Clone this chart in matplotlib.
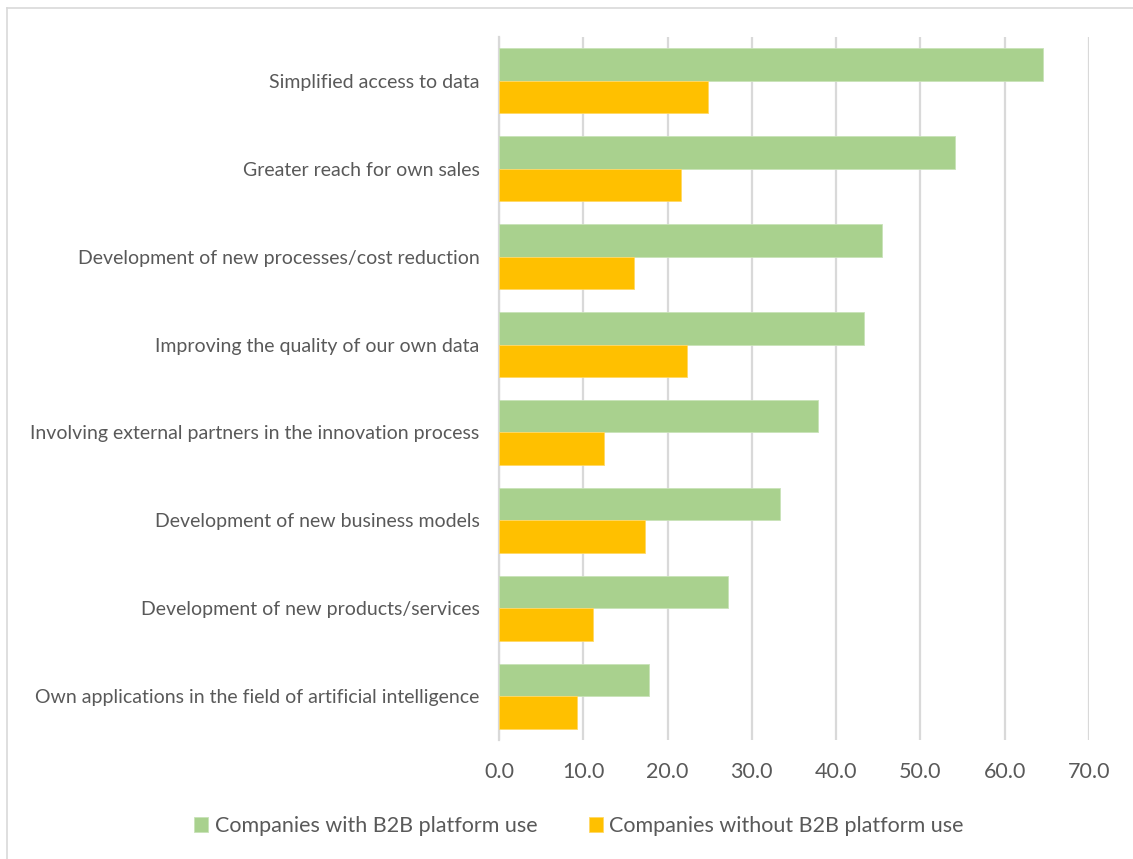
import numpy as np
import matplotlib.pyplot as plt
from matplotlib.lines import Line2D

plt.rcParams['font.family'] = ['Lato', 'DejaVu Sans']

categories = [
    "Simplified access to data",
    "Greater reach for own sales",
    "Development of new processes/cost reduction",
    "Improving the quality of our own data",
    "Involving external partners in the innovation process",
    "Development of new business models",
    "Development of new products/services",
    "Own applications in the field of artificial intelligence",
]
with_b2b = [64.5, 54.1, 45.4, 43.3, 37.9, 33.3, 27.2, 17.8]
without_b2b = [24.8, 21.6, 16.0, 22.3, 12.5, 17.3, 11.2, 9.2]
series_names = ["Companies with B2B platform use", "Companies without B2B platform use"]
ticks = np.arange(0, 71, 10)

GREEN = '#A9D18E'
ORANGE = '#FFC000'
TEXT = '#595959'
GRID = '#D9D9D9'

fig = plt.figure(figsize=(11.33, 8.59), dpi=100)
ax = fig.add_axes([0.4404, 0.1385, 0.5208, 0.8184])

y = np.arange(len(categories))
h = 0.37
ax.barh(y - h / 2, with_b2b, height=h, color=GREEN, edgecolor='#C9E3B8', linewidth=0.6,
        label=series_names[0], zorder=3)
ax.barh(y + h / 2, without_b2b, height=h, color=ORANGE, edgecolor='#FFD966', linewidth=0.6,
        label=series_names[1], zorder=3)

ax.set_xlim(0, 70)
ax.set_ylim(len(categories) - 0.5, -0.5)
ax.set_xticks(ticks)
ax.set_xticklabels([f"{t:.1f}" for t in ticks], fontsize=15.5, color=TEXT)
ax.set_yticks(y)
ax.set_yticklabels(categories, fontsize=14, color=TEXT)
ax.tick_params(axis='x', length=0, pad=16)
ax.tick_params(axis='y', length=0, pad=14)

ax.grid(axis='x', color=GRID, linewidth=1.6, zorder=0)
for s in ['top', 'right', 'bottom']:
    ax.spines[s].set_visible(False)
ax.spines['left'].set_color(GRID)
ax.spines['left'].set_linewidth(1.6)

# outer chart frame (top and left edges)
fig.add_artist(Line2D([7 / 1133, 1], [1 - 8 / 859, 1 - 8 / 859], color=GRID, linewidth=1.2))
fig.add_artist(Line2D([7 / 1133, 7 / 1133], [0, 1 - 8 / 859], color=GRID, linewidth=1.2))

fig.legend(loc='center', bbox_to_anchor=(0.511, 1 - 826 / 859), ncol=2, frameon=False,
           fontsize=15.5, labelcolor=TEXT, handlelength=0.65, handleheight=0.65,
           handletextpad=0.3, columnspacing=2.4)

fig.savefig('out.png', dpi=100, facecolor='white')
